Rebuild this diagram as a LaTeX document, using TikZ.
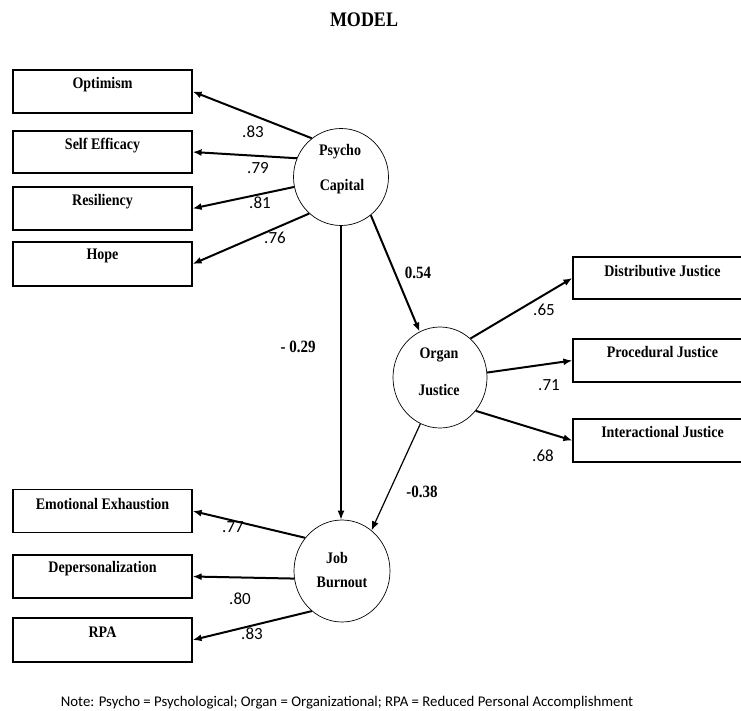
\documentclass[tikz,border=0pt]{standalone}
\usepackage{fontspec}
\usepackage{graphicx}
\setmainfont{Liberation Serif}
\newfontfamily\sanslbl{Carlito}
\newcommand\tallt[1]{\scalebox{1}[1.15]{#1}}
\usetikzlibrary{arrows.meta,shapes.geometric}
\begin{document}
\begin{tikzpicture}[x=1pt,y=-1pt,
  box/.style={draw,line width=1.2pt,minimum width=179pt,minimum height=43pt,inner sep=0pt},
  boxtxt/.style={font=\fontsize{14}{14}\selectfont\bfseries,inner sep=0pt},
  lat/.style={draw,ellipse,line width=0.7pt,inner sep=0pt},
  lattxt/.style={font=\fontsize{14}{14}\selectfont\bfseries,inner sep=0pt},
  arr/.style={line width=2pt,-{Latex[length=9pt,width=7pt]}},
  coef/.style={font=\fontsize{15}{15}\selectfont\bfseries,inner sep=0pt},
  load/.style={font=\sanslbl\fontsize{17}{17}\selectfont,inner sep=0pt}
]
\useasboundingbox (0,0) rectangle (741,711);

% title
\node[font=\fontsize{18}{18}\selectfont\bfseries,inner sep=0pt] (title) at (364,20) {\tallt{MODEL}};

% left indicator boxes
\node[box] (opt) at (102.5,91.5) {};
\node[box,minimum height=42pt] (self) at (102.5,152) {};
\node[box] (res) at (102.5,208.5) {};
\node[box,minimum height=44pt] (hope) at (102.5,264) {};
\node[box] (emo) at (102.5,511) {};
\node[box] (dep) at (102.5,576.5) {};
\node[box,minimum height=44pt] (rpa) at (102.5,640) {};
% right indicator boxes
\node[box,minimum height=42pt] (dist) at (662.5,278) {};
\node[box] (proc) at (662.5,360.5) {};
\node[box] (inter) at (662.5,440.5) {};

\node[boxtxt,yshift=-15pt] (optT) at (opt.north) {\tallt{Optimism}};
\node[boxtxt,yshift=-15pt] (selfT) at (self.north) {\tallt{Self Efficacy}};
\node[boxtxt,yshift=-15pt] (resT) at (res.north) {\tallt{Resiliency}};
\node[boxtxt,yshift=-15pt] (hopeT) at (hope.north) {\tallt{Hope}};
\node[boxtxt,yshift=-15pt] (emoT) at (emo.north) {\tallt{Emotional Exhaustion}};
\node[boxtxt,yshift=-14pt] (depT) at (dep.north) {\tallt{Depersonalization}};
\node[boxtxt,yshift=-15pt] (rpaT) at (rpa.north) {\tallt{RPA}};
\node[boxtxt,yshift=-15pt] (distT) at (dist.north) {\tallt{Distributive Justice}};
\node[boxtxt,yshift=-14pt] (procT) at (proc.north) {\tallt{Procedural Justice}};
\node[boxtxt,yshift=-14pt] (interT) at (inter.north) {\tallt{Interactional Justice}};

% latent variables
\node[lat,minimum width=95pt,minimum height=97pt] (psy) at (341,177) {};
\node[lat,minimum width=94pt,minimum height=101pt] (org) at (440,377.5) {};
\node[lat,minimum width=96pt,minimum height=102pt] (job) at (342,571) {};

\node[lattxt] (psyA) at (340,152) {\tallt{Psycho}};
\node[lattxt] (psyB) at (342,187) {\tallt{Capital}};
\node[lattxt] (orgA) at (439,355) {\tallt{Organ}};
\node[lattxt] (orgB) at (439,390) {\tallt{Justice}};
\node[lattxt] (jobA) at (337,558) {\tallt{Job}};
\node[lattxt] (jobB) at (342,582) {\tallt{Burnout}};

% loadings: psycho capital
\draw[arr] (psy.127) -- (opt.east);
\draw[arr] (psy.157) -- (self.east);
\draw[arr] (psy.192) -- (res.east);
\draw[arr] (psy.229) -- (hope.east);
% loadings: organ justice
\draw[arr] (org.52) -- (dist.west);
\draw[arr] (org.6) -- (proc.west);
\draw[arr] (org.317) -- (inter.west);
% loadings: job burnout
\draw[arr] (job.138) -- (emo.east);
\draw[arr] (job.189) -- (dep.east);
\draw[arr] (job.233) -- (rpa.east);

% structural paths
\draw[arr] (psy.308) -- (org.114);
\draw[arr,line width=1.5pt] (psy.south) -- (psy.south |- job.north);
\draw[arr,line width=1.2pt] (org.247) -- (job.54);

% coefficients
\node[coef] (c054) at (418,273) {\tallt{0.54}};
\node[coef] (c029) at (298,347) {\tallt{- 0.29}};
\node[coef] (c038) at (422,492) {\tallt{-0.38}};

\node[load] (l83a) at (253,132) {.83};
\node[load] (l79) at (258,168) {.79};
\node[load] (l81) at (260,203) {.81};
\node[load] (l76) at (275,238) {.76};
\node[load] (l65) at (544,310) {.65};
\node[load] (l71) at (549,385) {.71};
\node[load] (l68) at (543,456) {.68};
\node[load] (l77) at (233,527) {.77};
\node[load] (l80) at (240,599) {.80};
\node[load] (l83b) at (252,634) {.83};

% note
\node[font=\sanslbl\fontsize{14.8}{14.8}\selectfont,inner sep=0pt] (note) at (347,703)
  {Note: Psycho = Psychological; Organ = Organizational; RPA = Reduced Personal Accomplishment};
\end{tikzpicture}
\end{document}
